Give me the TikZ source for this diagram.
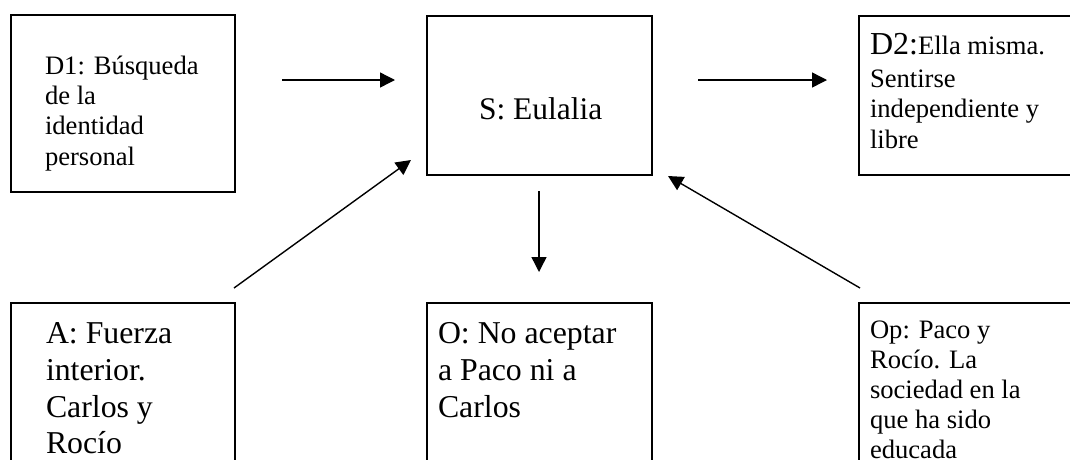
\documentclass[tikz,border=0pt]{standalone}
\usepackage{fontspec}
\setmainfont{Liberation Serif}
\usetikzlibrary{arrows.meta}
\begin{document}
\begin{tikzpicture}[x=1pt,y=-1pt,
  box/.style={draw=black, line width=1.6pt, inner sep=0pt, outer sep=0pt, rectangle},
  conn/.style={line width=1.4pt, -{Triangle[length=15pt,width=15pt]}},
  txt/.style={anchor=base west, inner sep=0pt, outer sep=0pt},
  smalltxt/.style={txt, font=\fontsize{26.6}{30.6}\selectfont},
  bigtxt/.style={txt, font=\fontsize{31.8}{36.6}\selectfont}]
\useasboundingbox (0,0) rectangle (1070,459);
\clip (0,0) rectangle (1070,459);
% boxes
\node[box, minimum width=224pt, minimum height=177pt] (d1) at (123,103.5) {};
\node[box, minimum width=225pt, minimum height=159pt] (s) at (539.5,95.5) {};
\node[box, minimum width=231pt, minimum height=159pt] (d2) at (974.5,95.5) {};
\node[box, minimum width=224pt, minimum height=177pt] (a) at (123,391.5) {};
\node[box, minimum width=225pt, minimum height=177pt] (o) at (539.5,391.5) {};
\node[box, minimum width=231pt, minimum height=177pt] (op) at (974.5,391.5) {};
% texts
\foreach \t/\y [count=\i] in {D1: Búsqueda/74, de la/104, identidad/134, personal/165}
  \node[smalltxt] (d1-\i) at (45,\y) {\t};
\node[txt, font=\fontsize{31.5}{36}\selectfont] (s-1) at (479,119) {S: Eulalia};
\node[txt] (d2-1) at (870,54) {{\fontsize{32}{36}\selectfont D2:}{\fontsize{26.6}{30.6}\selectfont Ella misma.}};
\foreach \t/\y [count=\i from 2] in {Sentirse/87, independiente y/117, libre/148}
  \node[smalltxt] (d2-\i) at (870,\y) {\t};
\foreach \t/\y [count=\i] in {A: Fuerza/343, interior./380, Carlos y/417, Rocío/453}
  \node[bigtxt] (a-\i) at (46,\y) {\t};
\foreach \t/\y [count=\i] in {O: No aceptar/343, a Paco ni a/380, Carlos/417}
  \node[bigtxt] (o-\i) at (438,\y) {\t};
\foreach \t/\y [count=\i] in {Op: Paco y/338, Rocío. La/368, sociedad en la/398, que ha sido/428, educada/458}
  \node[smalltxt] (op-\i) at (870,\y) {\t};
% connector end points
\coordinate (c1a) at (282,80);  \coordinate (c1b) at (395,80);
\coordinate (c2a) at (698,80);  \coordinate (c2b) at (827,80);
\coordinate (c3a) at (539,191); \coordinate (c3b) at (539,272);
\coordinate (c4a) at (234,288); \coordinate (c4b) at (411,160);
\coordinate (c5a) at (860,288); \coordinate (c5b) at (668,176);
\draw[conn] (c1a) -- (c1b);
\draw[conn] (c2a) -- (c2b);
\draw[conn] (c3a) -- (c3b);
\draw[conn] (c4a) -- (c4b);
\draw[conn] (c5a) -- (c5b);
\end{tikzpicture}
\end{document}
